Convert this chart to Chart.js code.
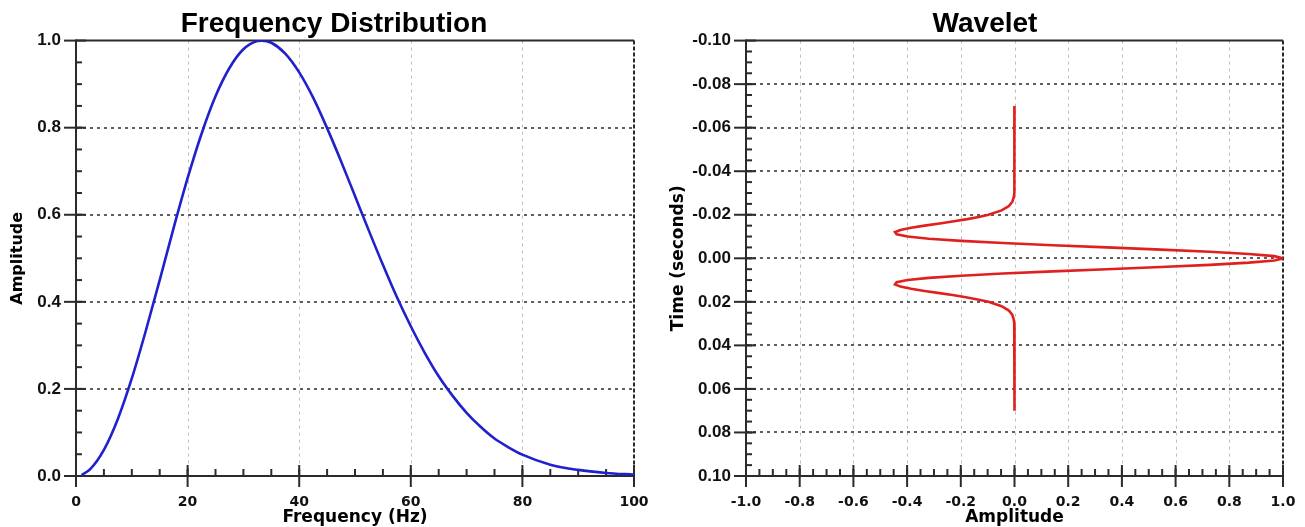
<!DOCTYPE html>
<html>
<head>
<meta charset="utf-8">
<script src="https://cdn.jsdelivr.net/npm/chart.js@4.4.1/dist/chart.umd.min.js"></script>
<style>
  html, body { margin: 0; padding: 0; background: #fff; }
  body { width: 1305px; height: 527px; position: relative; overflow: hidden; }
  canvas { position: absolute; top: 0; }
  #freqChart { left: 0; }
  #waveChart { left: 665px; }
</style>
</head>
<body>
<canvas id="freqChart" width="668" height="527"></canvas>
<canvas id="waveChart" width="640" height="527"></canvas>
<script>
// Left panel: frequency distribution
const freqHz = [1, 2.5, 5, 7.5, 10, 12.5, 15, 17.5, 20, 22.5, 25, 27.5, 30, 32.5, 33.3, 35, 37.5, 40, 42.5, 45, 47.5, 50,
    52.5, 55, 57.5, 60, 62.5, 65, 67.5, 70, 72.5, 75, 77.5, 80, 85, 90, 95, 100];
const freqAmp = [0.002, 0.015, 0.060, 0.131, 0.224, 0.333, 0.450, 0.570, 0.684, 0.786, 0.872, 0.937, 0.980, 0.999, 1.0, 0.995, 0.970, 0.927,
    0.869, 0.799, 0.723, 0.643, 0.563, 0.485, 0.411, 0.344, 0.283, 0.229, 0.184, 0.145, 0.113, 0.086, 0.066, 0.049, 0.026, 0.014, 0.007, 0.003];
const freqXTicks = [0, 20, 40, 60, 80, 100];
const freqYTicks = [0, 0.2, 0.4, 0.6, 0.8, 1.0];

// Right panel: wavelet (time on the vertical axis)
const waveTime = [-0.07, -0.04, -0.03, -0.028, -0.026, -0.024, -0.022,
    -0.020, -0.019, -0.018, -0.017, -0.016, -0.015, -0.014, -0.013, -0.012, -0.011, -0.010, -0.009, -0.008, -0.007, -0.006,
    -0.005, -0.004, -0.003, -0.002, -0.001, 0, 0.001, 0.002, 0.003, 0.004, 0.005, 0.006, 0.007, 0.008, 0.009, 0.010,
    0.011, 0.012, 0.013, 0.014, 0.015, 0.016, 0.017, 0.018, 0.019, 0.020,
    0.022, 0.024, 0.026, 0.028, 0.03, 0.04, 0.07];
const waveAmp = [0, 0, -0.001, -0.003, -0.008, -0.021, -0.048,
    -0.097, -0.133, -0.176, -0.225, -0.279, -0.335, -0.385, -0.425, -0.445, -0.439, -0.398, -0.319, -0.199, -0.043, 0.143,
    0.344, 0.545, 0.728, 0.873, 0.968, 1.0, 0.968, 0.873, 0.728, 0.545, 0.344, 0.143, -0.043, -0.199, -0.319, -0.398,
    -0.439, -0.445, -0.425, -0.385, -0.335, -0.279, -0.225, -0.176, -0.133, -0.097,
    -0.048, -0.021, -0.008, -0.003, -0.001, 0, 0];
const waveXTicks = [-1.0, -0.8, -0.6, -0.4, -0.2, 0, 0.2, 0.4, 0.6, 0.8, 1.0];
const waveYTicks = [-0.10, -0.08, -0.06, -0.04, -0.02, 0, 0.02, 0.04, 0.06, 0.08, 0.10];

const yTickFont = { family: 'Liberation Sans, Arial, sans-serif', size: 17, weight: 'bold' };
const xTickFont = { family: 'DejaVu Sans, sans-serif', size: 14, weight: 'bold' };
const axisFont = size => ({ family: 'DejaVu Sans, sans-serif', size: size, weight: 'bold' });
const titleFont = { family: 'Liberation Sans, Arial, sans-serif', size: 28, weight: 'bold' };

const fmt = (v, d) => (Math.abs(v) < 1e-9 ? 0 : v).toFixed(d);

// draws the grid, frame and tick marks the way the original plot has them
const framePlugin = {
    id: 'frame',
    beforeDatasetsDraw(chart, args, opts) {
        const { ctx, chartArea: a } = chart;
        const xs = chart.scales.x, ys = chart.scales.y;
        const seg = (x1, y1, x2, y2) => { ctx.beginPath(); ctx.moveTo(x1, y1); ctx.lineTo(x2, y2); ctx.stroke(); };
        const inner = (s, v) => v > s.min + 1e-9 && v < s.max - 1e-9;
        ctx.save();
        ctx.strokeStyle = '#bcbcbc';
        ctx.lineWidth = 1;
        ctx.setLineDash([3, 4]);
        xs.ticks.forEach(t => {
            if (!inner(xs, t.value)) return;
            const p = Math.round(xs.getPixelForValue(t.value)) + 0.5;
            seg(p, a.top, p, a.bottom);
        });
        ctx.strokeStyle = '#2b2b2b';
        ctx.lineWidth = 1.6;
        ctx.setLineDash([3, 4]);
        ys.ticks.forEach(t => {
            if (!inner(ys, t.value)) return;
            const p = Math.round(ys.getPixelForValue(t.value));
            seg(a.left, p, a.right, p);
        });
        ctx.lineWidth = 2;
        ctx.setLineDash([4, 2]);
        seg(a.right, a.top, a.right, a.bottom);
        ctx.setLineDash([]);
        seg(a.left, a.top, a.right, a.top);
        seg(a.left, a.top - 1, a.left, a.bottom + 1);
        seg(a.left - 1, a.bottom, a.right + 1, a.bottom);
        ys.ticks.forEach(t => {
            const p = ys.getPixelForValue(t.value);
            seg(a.left - 12, p, a.left + 10, p);
        });
        xs.ticks.forEach(t => {
            const p = xs.getPixelForValue(t.value);
            seg(p, a.bottom - 11, p, a.bottom + 11);
        });
        for (let v = ys.min + opts.yMinor; v < ys.max - 1e-9; v += opts.yMinor) {
            const p = ys.getPixelForValue(v);
            seg(a.left, p, a.left + 6, p);
        }
        for (let v = xs.min + opts.xMinor; v < xs.max - 1e-9; v += opts.xMinor) {
            const p = xs.getPixelForValue(v);
            seg(p, a.bottom, p, a.bottom - 7);
        }
        ctx.restore();
    }
};

function makeChart(id, cfg) {
    return new Chart(document.getElementById(id), {
        type: 'scatter',
        data: {
            datasets: [{
                data: cfg.xs.map((x, i) => ({ x: x, y: cfg.ys[i] })),
                showLine: true,
                borderColor: cfg.color,
                borderWidth: 2.6,
                pointRadius: 0,
                cubicInterpolationMode: cfg.smooth ? 'monotone' : 'default',
                tension: 0
            }]
        },
        plugins: [framePlugin],
        options: {
            responsive: false,
            animation: false,
            devicePixelRatio: 1,
            layout: { padding: { left: cfg.padLeft, right: cfg.padRight, top: 0, bottom: 0 } },
            plugins: {
                legend: { display: false },
                tooltip: { enabled: false },
                frame: { xMinor: cfg.xMinor, yMinor: cfg.yMinor },
                title: {
                    display: true,
                    text: cfg.title,
                    color: '#000',
                    font: titleFont,
                    padding: { top: 7, bottom: 0 }
                }
            },
            scales: {
                x: {
                    type: 'linear',
                    min: cfg.xTicks[0],
                    max: cfg.xTicks[cfg.xTicks.length - 1],
                    afterBuildTicks: s => { s.ticks = cfg.xTicks.map(v => ({ value: v })); },
                    afterFit: s => { s.height = 51; s.paddingLeft = 0; s.paddingRight = 0; },
                    grid: { display: false, drawTicks: false },
                    border: { display: false },
                    ticks: {
                        autoSkip: false,
                        maxRotation: 0,
                        padding: 18,
                        color: '#111',
                        font: xTickFont,
                        callback: v => fmt(v, cfg.xDec)
                    },
                    title: {
                        display: true,
                        text: cfg.xTitle,
                        color: '#000',
                        font: axisFont(17),
                        padding: { top: 0, bottom: -1 }
                    }
                },
                y: {
                    type: 'linear',
                    reverse: cfg.reverseY,
                    min: cfg.yTicks[0],
                    max: cfg.yTicks[cfg.yTicks.length - 1],
                    afterBuildTicks: s => { s.ticks = cfg.yTicks.map(v => ({ value: v })); },
                    afterFit: s => { s.width = cfg.yWidth; s.paddingTop = 0; s.paddingBottom = 0; },
                    grid: { display: false, drawTicks: false },
                    border: { display: false },
                    ticks: {
                        autoSkip: false,
                        padding: 15,
                        color: '#111',
                        font: yTickFont,
                        callback: v => fmt(v, cfg.yDec)
                    },
                    title: {
                        display: true,
                        text: cfg.yTitle,
                        color: '#000',
                        font: axisFont(cfg.yTitleSize),
                        padding: { top: cfg.yTitlePad, bottom: 0 }
                    }
                }
            }
        }
    });
}

makeChart('freqChart', {
    title: 'Frequency Distribution',
    xs: freqHz, ys: freqAmp, color: '#2020cc', smooth: true,
    xTicks: freqXTicks, yTicks: freqYTicks, xDec: 0, yDec: 1,
    xMinor: 5, yMinor: 0.05, reverseY: false,
    xTitle: 'Frequency (Hz)', yTitle: 'Amplitude', yTitleSize: 16, yTitlePad: -26,
    yWidth: 42, padLeft: 34, padRight: 34
});

makeChart('waveChart', {
    title: 'Wavelet',
    xs: waveAmp, ys: waveTime, color: '#e0201e', smooth: false,
    xTicks: waveXTicks, yTicks: waveYTicks, xDec: 1, yDec: 2,
    xMinor: 0.05, yMinor: 0.005, reverseY: true,
    xTitle: 'Amplitude', yTitle: 'Time (seconds)', yTitleSize: 17, yTitlePad: -19,
    yWidth: 59, padLeft: 22, padRight: 22
});
</script>
</body>
</html>
